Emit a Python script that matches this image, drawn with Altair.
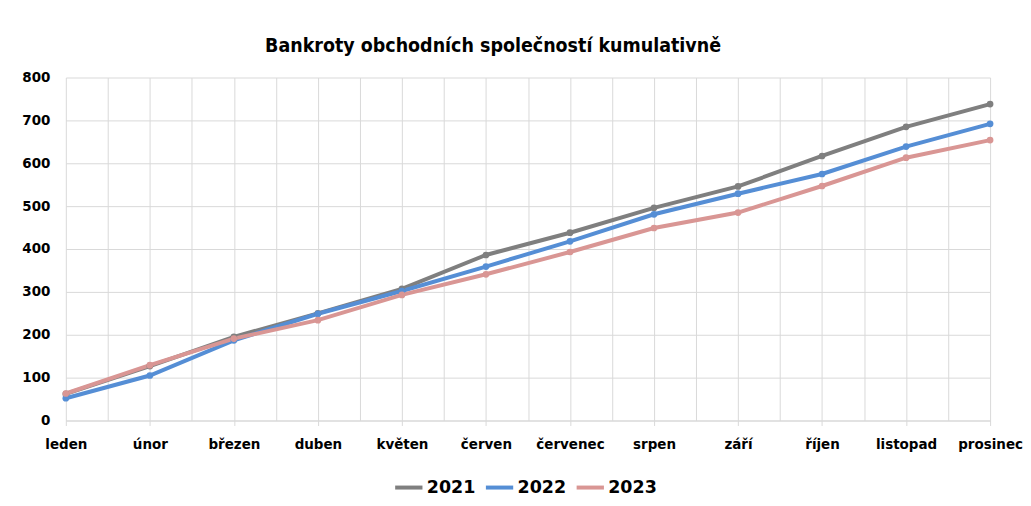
import json
import altair as alt
import pandas as pd

months = ["leden", "únor", "březen", "duben", "květen", "červen",
          "červenec", "srpen", "září", "říjen", "listopad", "prosinec"]
years = ["2021", "2022", "2023"]
v2021 = [62, 127, 195, 250, 307, 386, 438, 496, 546, 617, 685, 738]
v2022 = [52, 105, 187, 249, 302, 359, 418, 481, 529, 575, 639, 692]
v2023 = [63, 129, 191, 234, 293, 341, 393, 449, 485, 547, 613, 654]
colors = ["#7F7F7F", "#558ED5", "#D99694"]

rows = []
for yr, vals in zip(years, [v2021, v2022, v2023]):
    for i, (m, v) in enumerate(zip(months, vals)):
        rows.append({"idx": i, "mesic": m, "rok": yr, "hodnota": v})
df = pd.DataFrame(rows)

W, H = 927, 344
grid_col = "#D9D9D9"
lab_font = "DejaVu Sans"
half_ticks = [i / 2 for i in range(0, 23)]
month_js = json.dumps(months, ensure_ascii=False)

x_enc = alt.X(
    "idx:Q",
    scale=alt.Scale(domain=[0, 11], nice=False, zero=False),
    axis=alt.Axis(
        title=None, values=half_ticks,
        labelExpr=f"datum.value % 1 == 0 ? {month_js}[datum.value] : ''",
        grid=True, gridColor=grid_col, gridWidth=1,
        domain=True, domainColor=grid_col,
        ticks=True, tickColor=grid_col, tickSize=5,
        tickOpacity={"condition": {"test": "datum.value % 1 == 0", "value": 1}, "value": 0},
        labelFont=lab_font, labelFontSize=13.5, labelFontWeight="bold",
        labelColor="#000000", labelPadding=12, labelOverlap=False, labelFlush=False,
    ),
)
y_enc = alt.Y(
    "hodnota:Q",
    scale=alt.Scale(domain=[0, 800], nice=False),
    axis=alt.Axis(
        title=None, values=list(range(0, 801, 100)),
        grid=True, gridColor=grid_col, gridWidth=1,
        domain=False, ticks=False,
        labelFont=lab_font, labelFontSize=13.5, labelFontWeight="bold",
        labelColor="#000000", labelPadding=16,
    ),
)
color_enc = alt.Color(
    "rok:N",
    scale=alt.Scale(domain=years, range=colors),
    legend=alt.Legend(
        title=None, orient="none", direction="horizontal",
        legendX=328, legendY=395,
        symbolType="stroke", symbolStrokeWidth=4, symbolSize=750,
        labelFont=lab_font, labelFontSize=17.5, labelFontWeight="bold",
        labelColor="#000000", columnPadding=2, labelOffset=2,
    ),
)

base = alt.Chart(df)
lines = base.mark_line(strokeWidth=4).encode(x=x_enc, y=y_enc, color=color_enc, detail="rok:N")
points = base.mark_point(filled=True, size=45, opacity=1).encode(x="idx:Q", y="hodnota:Q", color="rok:N")

chart = alt.layer(lines, points).properties(
    width=W, height=H,
    title=alt.Title(
        "Bankroty obchodních společností kumulativně",
        font="DejaVu Sans Condensed", fontSize=19.5, fontWeight="bold",
        color="#000000", anchor="middle", dx=-35, offset=14,
    ),
    padding={"left": 13, "top": 27, "right": 0, "bottom": 0},
).configure_view(stroke=None)

chart.save("out.html", embed_options={"renderer": "svg", "actions": False})
